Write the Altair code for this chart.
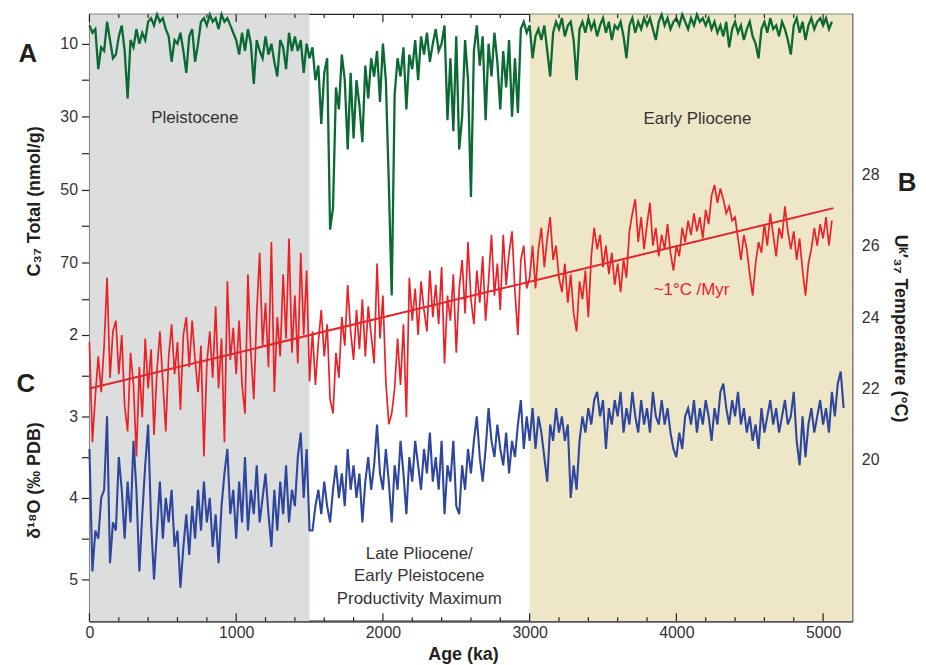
import altair as alt
import pandas as pd

STEP = 20  # sampling interval of the digitised records (ka)

# A: C37 alkenone total (nmol/g), ages 0, 20, 40 ... ka
C37 = [
    5, 7, 6, 17, 11, 12, 4, 9, 14, 13,
    8, 5, 12, 25, 9, 11, 6, 10, 7, 9,
    4, 3, 5, 2, 4, 3, 6, 8, 15, 9,
    10, 7, 12, 18, 8, 6, 15, 10, 4, 3,
    5, 2, 4, 3, 6, 2, 4, 3, 5, 7,
    9, 13, 7, 12, 6, 10, 21, 9, 12, 14,
    8, 13, 10, 15, 19, 9, 11, 17, 7, 12,
    8, 12, 9, 18, 10, 14, 11, 20, 16, 32,
    18, 14, 61, 55, 22, 28, 13, 20, 39, 18,
    36, 20, 27, 37, 16, 25, 14, 19, 12, 26,
    10, 20, 48, 79, 24, 14, 19, 11, 28, 13,
    17, 9, 20, 8, 13, 7, 15, 10, 6, 12,
    10, 5, 31, 14, 34, 8, 39, 30, 9, 20,
    52, 12, 5, 16, 8, 31, 10, 19, 7, 15,
    28, 12, 22, 9, 30, 14, 29, 6, 4, 7,
    5, 14, 8, 6, 9, 5, 12, 19, 7, 4,
    6, 3, 8, 5, 4, 9, 20, 6, 4, 7,
    3, 6, 4, 8, 5, 3, 7, 4, 9, 5,
    6, 4, 8, 14, 5, 3, 7, 4, 6, 3,
    5, 3, 6, 9, 4, 2, 5, 3, 6, 4,
    3, 5, 2, 4, 6, 3, 5, 2, 4, 3,
    5, 3, 6, 4, 7, 5, 8, 4, 11, 6,
    4, 7, 5, 9, 6, 4, 8, 10, 14, 6,
    4, 7, 3, 6, 5, 8, 4, 6, 9, 13,
    5, 3, 7, 4, 9, 5, 3, 6, 4, 3,
    5, 3, 6, 4,
]

# B: Uk'37 temperature (deg C), ages 0, 20, 40 ... ka
UK37 = [
    23.3, 20.5, 21.8, 22.9, 21.9, 23.2, 25.1, 22.3, 23.6, 23.9,
    22.4, 23.5, 21.5, 20.8, 23.0, 22.1, 20.1, 22.6, 21.2, 23.4,
    22.0, 23.1, 20.7, 22.5, 23.6, 22.2, 20.8, 22.9, 23.8, 22.4,
    23.3, 21.4, 23.5, 24.0, 22.6, 23.9, 22.8, 21.9, 23.2, 20.1,
    22.7, 23.6, 22.3, 24.3, 22.0, 23.4, 20.5, 25.0, 22.8, 23.7,
    22.4, 23.9, 22.1, 21.3, 25.2, 23.0, 21.7, 24.1, 25.8, 23.2,
    24.4, 22.6, 26.1, 21.9, 24.0, 22.9, 25.2, 23.4, 26.2, 23.0,
    24.6, 22.7, 25.8, 23.5, 25.3, 22.2,
    23.6, 22.1, 23.3, 24.2, 22.9, 23.8, 21.7, 21.3, 23.0, 22.3,
    24.0, 23.2, 24.9, 23.6, 22.8, 24.2, 23.1, 24.5, 22.9, 24.3,
    23.5, 22.7, 25.5, 23.4, 24.6, 22.2, 21.0, 21.3, 22.0, 23.4,
    22.1, 23.8, 21.2, 25.1, 23.9, 24.8, 23.5, 25.0, 24.2, 23.6,
    25.3, 24.0, 24.9, 23.8, 25.4, 22.7, 24.6, 23.9, 25.2, 23.0,
    24.8, 25.6, 24.1, 26.1, 24.5, 23.8, 25.3, 24.4, 25.7, 23.9,
    25.0, 26.3, 24.6, 25.5, 24.2, 26.3, 24.9, 25.8, 26.4, 24.7,
    23.5, 25.6, 26.0, 24.8,
    25.1, 26.0, 24.8, 25.9, 26.5, 25.4, 26.2, 26.8, 25.6, 26.0,
    25.1, 24.7, 25.5, 24.4, 25.2, 24.1, 23.6, 25.0, 24.5, 25.3,
    24.0, 25.7, 26.5, 25.9, 26.3, 25.4, 26.0, 25.2, 25.8, 24.9,
    25.5, 24.7, 25.6, 25.1, 26.4, 26.9, 27.3, 26.1, 26.8, 25.9,
    26.6, 27.2, 26.0, 26.5, 25.7, 26.3, 25.9, 26.6, 25.8, 25.3,
    26.0, 25.7, 26.5, 26.1, 26.7, 26.3, 26.9, 26.4, 26.8, 26.2,
    27.0, 26.6, 27.4, 27.7, 27.2, 27.6, 27.3, 26.9, 27.1, 26.7,
    26.8, 26.2, 25.6, 26.3, 25.9, 25.2, 24.6, 25.5, 26.1, 25.8,
    26.6, 26.0, 26.9, 26.3, 25.7, 26.5, 26.2, 27.1, 26.4, 25.9,
    26.4, 25.6, 26.2, 25.3, 24.6, 25.5, 25.9, 26.5, 26.0, 26.6,
    26.2, 26.8, 26.0, 26.7,
]

# C: benthic d18O (per mil PDB), ages 0, 20, 40 ... ka
D18O = [
    3.4, 4.9, 4.4, 4.5, 4.0, 3.9, 3.0, 4.8, 4.3, 4.4,
    3.5, 3.9, 4.5, 3.8, 4.3, 3.3, 3.9, 4.9, 4.2, 3.6,
    3.1, 4.3, 5.0, 4.4, 3.8, 4.5, 4.0, 4.3, 3.9, 4.6,
    4.4, 5.1, 4.6, 4.2, 4.7, 4.1, 4.5, 3.9, 4.4, 3.8,
    4.3, 4.0, 4.6, 4.2, 4.8, 4.1, 3.7, 3.4, 4.2, 3.9,
    4.5, 3.8, 4.3, 3.5, 4.4, 3.9, 4.2, 3.6, 4.3, 4.0,
    3.7, 4.2, 4.6, 3.9, 4.4, 3.8, 4.2, 3.6, 4.3, 3.9,
    4.1, 3.5, 3.2, 4.0, 3.4, 4.4,
    4.4, 4.1, 3.9, 4.2, 3.8, 4.1, 4.3, 3.9, 3.6, 4.0,
    3.7, 4.1, 3.4, 3.9, 3.6, 4.0, 3.7, 4.3, 3.8, 3.5,
    3.9, 3.6, 3.1, 3.7, 3.9, 3.4, 3.8, 4.3, 3.6, 3.9,
    3.3, 3.7, 4.2, 3.5, 3.8, 3.3, 3.6, 3.9, 3.4, 3.7,
    3.2, 3.8, 3.5, 3.9, 3.3, 4.2, 3.6, 3.8, 3.3, 4.1,
    4.2, 3.6, 3.9, 3.4, 3.7, 3.3, 3.0, 3.5, 3.8, 3.4,
    2.9, 3.3, 3.5, 3.1, 3.4, 3.6, 3.2, 3.7, 3.3, 3.5,
    3.1, 2.8, 3.4, 3.0, 3.3, 2.9, 3.4, 3.0, 3.2, 3.5,
    3.8, 3.1, 3.3, 2.9, 3.2, 3.0, 3.3, 3.1, 4.0, 3.6,
    3.9, 3.3, 3.0, 3.2, 2.9, 3.1, 2.8, 2.7, 3.0, 2.8,
    3.4, 2.9, 3.1, 2.8, 3.0, 2.7, 3.2, 2.9, 3.1, 2.7,
    3.0, 3.2, 2.8, 3.1, 2.9, 3.2, 2.7, 3.0, 3.1, 2.8,
    3.1, 2.9, 3.2, 3.4, 3.5, 3.2, 3.4, 3.0, 2.9, 3.1,
    2.8, 3.2, 2.9, 3.1, 2.8, 3.0, 3.3, 2.9, 3.1, 2.7,
    2.6, 2.9, 3.1, 2.8, 3.0, 2.7, 3.1, 2.9, 3.2, 3.0,
    3.3, 3.1, 3.4, 2.9, 3.2, 3.0, 2.8, 3.1, 2.9, 3.2,
    3.0, 2.8, 3.1, 3.0, 2.7, 3.3, 3.6, 3.0, 3.5, 3.1,
    2.9, 3.2, 3.0, 2.8, 3.1, 2.9, 3.2, 2.7, 3.0, 2.6,
    2.45, 2.9,
]

# Linear warming trend drawn over B (~1 deg C / Myr)
TREND_AGE = [0, 5070]
TREND_T = [22.0, 27.05]

# Shaded periods
PERIOD_START = [0, 3000]
PERIOD_END = [1500, 5200]
PERIOD_NAME = ["Pleistocene", "Early Pliocene"]
PERIOD_COLOR = ["#dcdddd", "#ede6c7"]

# Age-axis ticks
X_MAJOR = [0, 1000, 2000, 3000, 4000, 5000]
X_MINOR = [a for a in range(200, 5001, 200) if a % 1000 != 0]

W, H = 768, 611
DARK = "#231f20"
LABEL = "#333333"

green_df = pd.DataFrame({"age": [i * STEP for i in range(len(C37))], "c37": C37})
red_df = pd.DataFrame({"age": [i * STEP for i in range(len(UK37))], "temp": UK37})
blue_df = pd.DataFrame({"age": [i * STEP for i in range(len(D18O))], "d18o": D18O})
trend_df = pd.DataFrame({"age": TREND_AGE, "temp": TREND_T})
period_df = pd.DataFrame({"age": PERIOD_START, "end": PERIOD_END, "name": PERIOD_NAME})
major_df = pd.DataFrame({"age": X_MAJOR})
minor_df = pd.DataFrame({"age": X_MINOR})

xs = alt.Scale(domain=[0, 5200], nice=False, zero=False)
green_scale = alt.Scale(domain=[1.9, 168.3], reverse=True, nice=False, zero=False)
red_scale = alt.Scale(domain=[15.49, 32.48], nice=False, zero=False)
blue_scale = alt.Scale(domain=[-1.93, 5.51], reverse=True, nice=False, zero=False)

x_axis = alt.Axis(
    orient="bottom", values=X_MAJOR, ticks=False, grid=False, format="d",
    domain=True, domainColor="#555555", domainWidth=2.5,
    labelFontSize=16, labelColor=LABEL, labelPadding=3, labelFlush=False,
    title="Age (ka)", titleFontSize=18, titleFontWeight="bold", titleColor=DARK,
    titleX=376, titleY=39, titleAlign="center", titleBaseline="alphabetic",
)


def xenc():
    return alt.X("age:Q", scale=xs, axis=x_axis)


bg = alt.Chart(period_df).mark_rect().encode(
    x=xenc(),
    x2="end:Q",
    y=alt.value(0),
    y2=alt.value(H),
    color=alt.Color("name:N", scale=alt.Scale(domain=PERIOD_NAME, range=PERIOD_COLOR), legend=None),
)

red = alt.Chart(red_df).mark_line(color="#ec2027", strokeWidth=1.7).encode(
    x=xenc(),
    y=alt.Y("temp:Q", scale=red_scale, axis=alt.Axis(
        orient="right", values=list(range(20, 29)), grid=False,
        labelExpr="datum.value % 2 == 0 ? datum.label : ''",
        offset=-9, domain=False, tickSize=9, tickColor=DARK, tickWidth=1.2,
        labelPadding=9, labelFontSize=16, labelColor=LABEL,
        title="Uᵏ′₃₇ Temperature (°C)", titleFontSize=18, titleFontWeight="bold",
        titleColor=DARK, titleAngle=90, titleX=51, titleY=316,
        titleAlign="center", titleBaseline="alphabetic",
    )),
)

trend = alt.Chart(trend_df).mark_line(color="#e3262b", strokeWidth=2).encode(
    x=xenc(),
    y=alt.Y("temp:Q", scale=red_scale, axis=None),
)

blue = alt.Chart(blue_df).mark_line(color="#2e469e", strokeWidth=2.1).encode(
    x=xenc(),
    y=alt.Y("d18o:Q", scale=blue_scale, axis=alt.Axis(
        orient="left", values=[2, 2.5, 3, 3.5, 4, 4.5, 5], grid=False,
        labelExpr="datum.value % 1 == 0 ? '' + datum.value : ''",
        domain=False, tickSize=8, tickColor=DARK, tickWidth=1.2,
        labelPadding=4, labelFontSize=16, labelColor=LABEL,
        title="δ¹⁸O (‰ PDB)", titleFontSize=18, titleFontWeight="bold",
        titleColor=DARK, titleAngle=-90, titleX=-50, titleY=469,
        titleAlign="center", titleBaseline="alphabetic",
    )),
)

green = alt.Chart(green_df).mark_line(color="#0b6a33", strokeWidth=2.3).encode(
    x=xenc(),
    y=alt.Y("c37:Q", scale=green_scale, axis=alt.Axis(
        orient="left", values=[10, 20, 30, 40, 50, 60, 70, 80], grid=False,
        labelExpr="datum.value % 20 == 10 ? datum.label : ''",
        domain=True, domainColor=DARK, domainWidth=2,
        tickSize=8, tickColor=DARK, tickWidth=1.2,
        labelPadding=4, labelFontSize=16, labelColor=LABEL,
        title="C₃₇ Total (nmol/g)", titleFontSize=18, titleFontWeight="bold",
        titleColor=DARK, titleAngle=-90, titleX=-50, titleY=188,
        titleAlign="center", titleBaseline="alphabetic",
    )),
)


def tick_layer(df, y0, y1):
    return alt.Chart(df).mark_rule(color=DARK, strokeWidth=1.2).encode(
        x=xenc(),
        y=alt.value(y0),
        y2=alt.value(y1),
    )


ticks = [
    tick_layer(major_df, H, H - 8),
    tick_layer(minor_df, H, H - 4),
    tick_layer(major_df, 0, 8),
    tick_layer(minor_df, 0, 4),
]


def text_layer(text, x, y, size=17, weight="normal", color=LABEL):
    return alt.Chart(pd.DataFrame({"t": [text]})).mark_text(
        fontSize=size, fontWeight=weight, color=color, align="center", baseline="middle",
    ).encode(x=alt.value(x), y=alt.value(y), text="t:N")


texts = [
    text_layer("Pleistocene", 106, 105),
    text_layer("Early Pliocene", 612, 106),
    text_layer("Late Pliocene/", 332, 543),
    text_layer("Early Pleistocene", 332, 566),
    text_layer("Productivity Maximum", 332, 589),
    text_layer("~1°C /Myr", 606, 278, color="#ec2027"),
    text_layer("A", -62, 40, size=26, weight="bold", color=DARK),
    text_layer("B", 823, 170, size=26, weight="bold", color=DARK),
    text_layer("C", -64, 372, size=26, weight="bold", color=DARK),
]

chart = alt.layer(bg, red, trend, blue, green, *ticks, *texts).resolve_scale(
    y="independent"
).properties(
    width=W,
    height=H,
    padding={"left": 82, "top": 4, "right": 66, "bottom": 42},
    autosize=alt.AutoSizeParams(type="none"),
).configure(
    font="Liberation Sans"
).configure_view(
    stroke=DARK, strokeWidth=1.2
)

chart.save("out.html", embed_options={"renderer": "svg", "actions": False})
